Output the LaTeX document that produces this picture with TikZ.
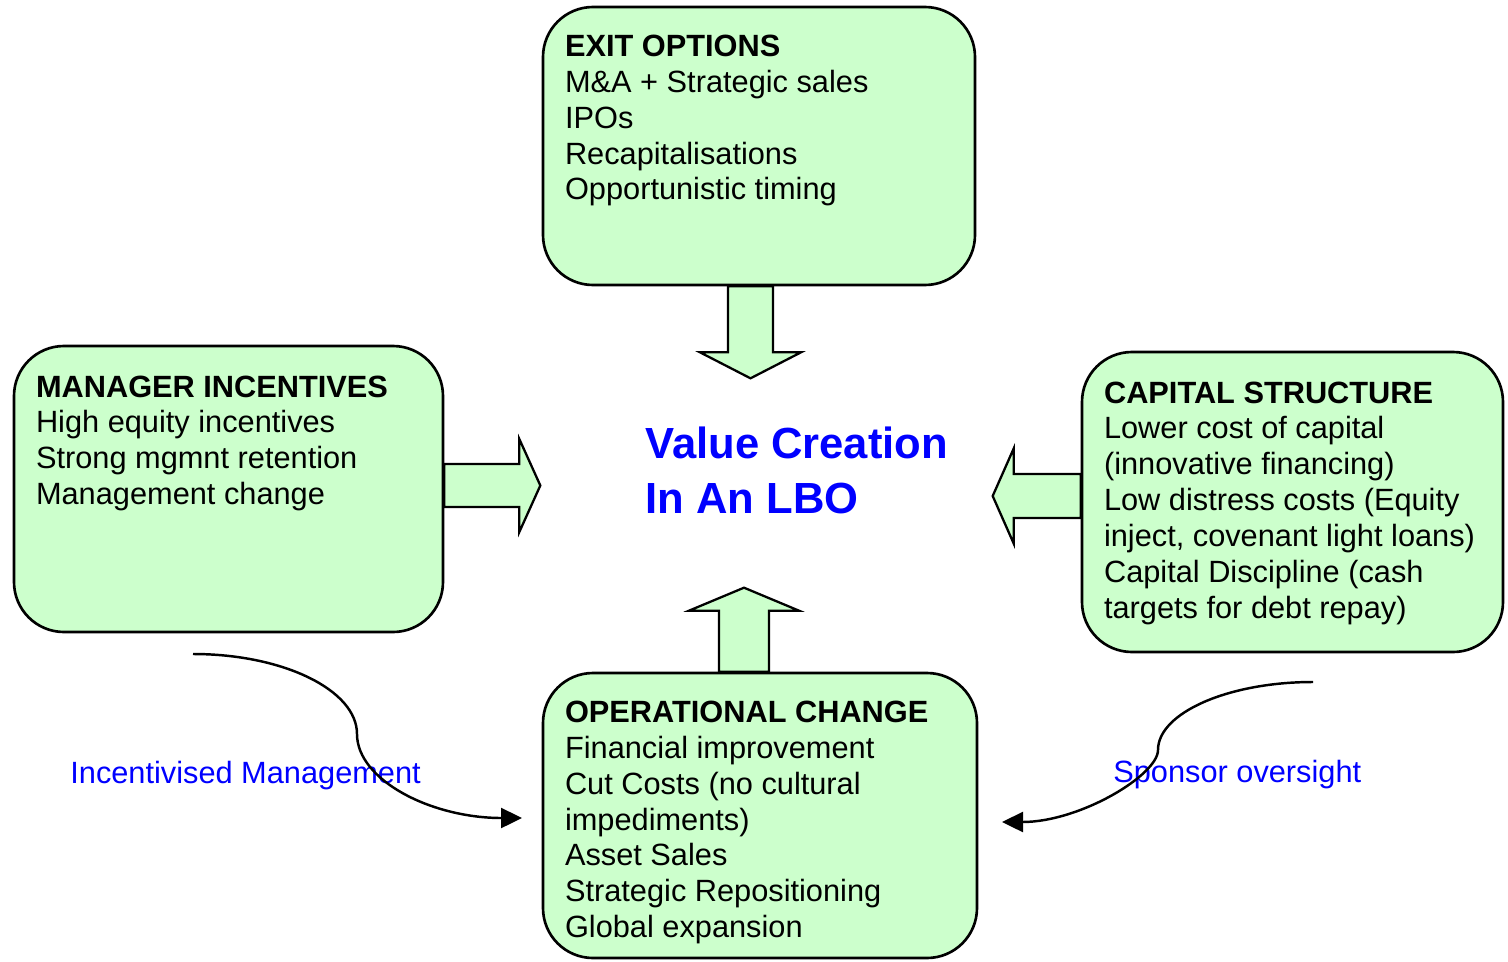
\documentclass[tikz,border=0pt]{standalone}
\usepackage{fontspec}
\setmainfont{Liberation Sans}
\usetikzlibrary{positioning,arrows.meta}
\definecolor{boxgreen}{HTML}{CCFFCC}

\begin{document}
\begin{tikzpicture}[
    box/.style={draw, line width=1.5pt, fill=boxgreen, rounded corners=1cm, inner sep=0pt},
    body/.style={align=left, inner sep=0pt, font=\fontsize{17.5}{20.4}\selectfont},
    title/.style={align=left, inner sep=0pt, text=blue, font=\bfseries\fontsize{24.8}{31.3}\selectfont},
    note/.style={inner sep=0pt, text=blue, font=\fontsize{17.5}{20.4}\selectfont},
    blockarrow/.style={draw, line width=1.3pt, fill=boxgreen, line join=miter},
    flow/.style={line width=1.4pt, -{Triangle[length=0.42cm,width=0.4cm]}}]
  \useasboundingbox (0,0) rectangle (30.16,-19.22);

  % boxes
  \node[box, minimum width=8.64cm, minimum height=5.56cm] (exit)    at (15.18,-2.92)  {};
  \node[box, minimum width=8.58cm, minimum height=5.72cm] (manager) at (4.57,-9.78)   {};
  \node[box, minimum width=8.42cm, minimum height=6.00cm] (capital) at (25.85,-10.04) {};
  \node[box, minimum width=8.68cm, minimum height=5.70cm] (ops)     at (15.2,-16.31)  {};

  % box texts
  \node[body, below right=0.58cm and 0.46cm of exit.north west] (exittxt)
    {\textbf{EXIT OPTIONS}\\M\&A + Strategic sales\\IPOs\\Recapitalisations\\Opportunistic timing};
  \node[body, below right=0.61cm and 0.46cm of manager.north west] (managertxt)
    {\textbf{MANAGER INCENTIVES}\\High equity incentives\\Strong mgmnt retention\\Management change};
  \node[body, below right=0.61cm and 0.46cm of capital.north west] (capitaltxt)
    {\textbf{CAPITAL STRUCTURE}\\Lower cost of capital\\(innovative financing)\\Low distress costs (Equity\\inject, covenant light loans)\\Capital Discipline (cash\\targets for debt repay)};
  \node[body, below right=0.58cm and 0.46cm of ops.north west] (opstxt)
    {\textbf{OPERATIONAL CHANGE}\\Financial improvement\\Cut Costs (no cultural\\impediments)\\Asset Sales\\Strategic Repositioning\\Global expansion};

  \node[title, anchor=north west] (value) at (12.9,-8.54) {Value Creation\\In An LBO};

  % block arrows into the middle
  \draw[blockarrow] ([xshift=-0.62cm]exit.south) -- ++(0,-1.32) -- ++(-0.56,0)
    -- ++(1.01,-0.52) -- ++(1.01,0.52) -- ++(-0.56,0) -- ++(0,1.32) -- cycle;
  \draw[blockarrow] ([xshift=-0.82cm]ops.north) -- ++(0,1.22) -- ++(-0.6,0)
    -- ++(1.1,0.46) -- ++(1.1,-0.46) -- ++(-0.6,0) -- ++(0,-1.22) -- cycle;
  \draw[blockarrow] ([yshift=0.5cm]manager.east) -- ++(1.5,0) -- ++(0,0.5)
    -- ++(0.42,-0.93) -- ++(-0.42,-0.93) -- ++(0,0.5) -- ++(-1.5,0) -- cycle;
  \draw[blockarrow] ([yshift=0.56cm]capital.west) -- ++(-1.34,0) -- ++(0,0.51)
    -- ++(-0.42,-0.95) -- ++(0.42,-0.95) -- ++(0,0.51) -- ++(1.34,0) -- cycle;

  % side flows into operational change
  \coordinate (mgrtail) at (3.86,-13.08);
  \coordinate (mgrhead) at (10.44,-16.36);
  \coordinate (sptail)  at (26.26,-13.64);
  \coordinate (sphead)  at (20.04,-16.44);

  \node[note, anchor=base west] (incent)  at (1.4,-15.66)   {Incentivised Management};
  \node[note, anchor=base west] (sponsor) at (22.26,-15.64) {Sponsor oversight};

  \draw[flow] (mgrtail) .. controls (5.66,-13.08) and (7.14,-13.8) .. (7.14,-14.68)
    .. controls (7.14,-15.6) and (8.62,-16.36) .. (mgrhead);
  \draw[flow] (sptail) .. controls (24.56,-13.64) and (23.16,-14.26) .. (23.16,-15.0)
    .. controls (23.16,-15.5) and (21.6,-16.44) .. (sphead);
\end{tikzpicture}
\end{document}
